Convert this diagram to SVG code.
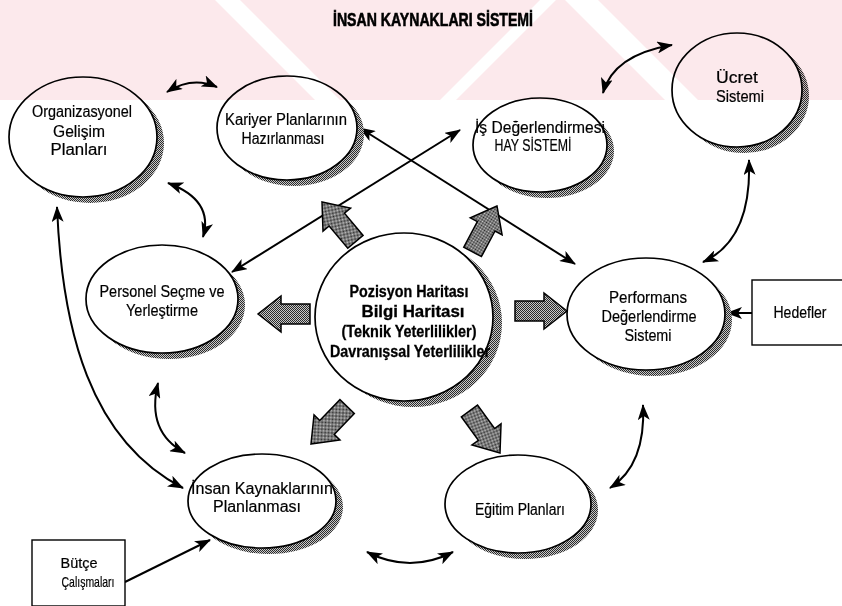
<svg xmlns="http://www.w3.org/2000/svg" width="842" height="606" viewBox="0 0 842 606">
  <defs>
    <!-- halftone fill used for shadows and block arrows -->
    <pattern id="ht" width="2" height="2" patternUnits="userSpaceOnUse">
      <rect width="2" height="2" fill="#c8c8c8"/>
      <rect width="1" height="1" fill="#2a2a2a"/>
      <rect x="1" y="1" width="1" height="1" fill="#2a2a2a"/>
    </pattern>
    <marker id="ah" markerUnits="userSpaceOnUse" markerWidth="16" markerHeight="12" refX="15" refY="6" orient="auto-start-reverse">
      <path d="M0,0 L16,6 L0,12 L4,6 Z" fill="#000"/>
    </marker>
    <path id="block" d="M0,0 L-23,-18 L-23,-10 L-52,-10 L-52,10 L-23,10 L-23,18 Z"/>
  </defs>
  <style>
    .node ellipse.sh { fill: url(#ht); stroke: none; }
    .node ellipse.fg { fill: #fff; stroke: #000; stroke-width: 1.7; }
    .box { fill: #fff; stroke: #000; stroke-width: 1.4; }
    text { font-family: "Liberation Sans", Arial, sans-serif; font-size: 16px; fill: #000; stroke: #000; stroke-width: 0.2; text-anchor: middle; }
    .b { font-weight: bold; stroke-width: 0.3; }
    .title { font-weight: bold; font-size: 19px; stroke-width: 0.6; }
    .sm { font-size: 15px; }
    .link { fill: none; stroke: #000; stroke-width: 2; marker-start: url(#ah); marker-end: url(#ah); }
    .one { fill: none; stroke: #000; stroke-width: 2; marker-end: url(#ah); }
    .fat { fill: url(#ht); stroke: #000; stroke-width: 1.5; stroke-linejoin: miter; }
    #band { mix-blend-mode: multiply; }
  </style>

  <rect width="842" height="606" fill="#fff"/>

  <text id="title" class="title" x="433" y="26" textLength="200" lengthAdjust="spacingAndGlyphs">İNSAN KAYNAKLARI SİSTEMİ</text>

  <!-- connectors -->
  <g id="connectors">
    <path class="link" d="M167,92 Q192,76 217,87"/>
    <path class="link" d="M168,183 Q214,200 203,237"/>
    <path class="link" d="M57,207 C62,330 90,440 183,488"/>
    <path class="link" d="M158,383 Q146,432 185,453"/>
    <path class="link" d="M367,552 Q410,574 453,552"/>
    <path class="link" d="M610,488 Q646,465 643,405"/>
    <path class="link" d="M703,262 Q752,240 749,160"/>
    <path class="link" d="M603,93 Q613,55 672,45"/>
    <path class="link" d="M360,128 L575,264"/>
    <path class="link" d="M232,272 L460,130"/>
    <path class="one" d="M752,313 L727,313"/>
    <path class="one" d="M125,582 L210,540"/>
  </g>

  <!-- block arrows out of the centre -->
  <g id="block-arrows">
    <use href="#block" class="fat" transform="translate(258,314) rotate(180)"/>
    <use href="#block" class="fat" transform="translate(567,311)"/>
    <use href="#block" class="fat" transform="translate(322,202) rotate(-130)"/>
    <use href="#block" class="fat" transform="translate(497,206) rotate(-62)"/>
    <use href="#block" class="fat" transform="translate(311,444) rotate(134)"/>
    <use href="#block" class="fat" transform="translate(500,453) rotate(54)"/>
  </g>

  <g id="org" class="node">
    <ellipse class="sh" cx="90" cy="143" rx="74" ry="60"/>
    <ellipse class="fg" cx="83" cy="137" rx="74" ry="60"/>
    <text x="82" y="117" textLength="100" lengthAdjust="spacingAndGlyphs">Organizasyonel</text>
    <text x="79" y="137" textLength="52" lengthAdjust="spacingAndGlyphs">Gelişim</text>
    <text x="79" y="155" textLength="57" lengthAdjust="spacingAndGlyphs">Planları</text>
  </g>

  <g id="kariyer" class="node">
    <ellipse class="sh" cx="294" cy="134" rx="70" ry="52"/>
    <ellipse class="fg" cx="287" cy="128" rx="70" ry="52"/>
    <text x="286" y="125" textLength="122" lengthAdjust="spacingAndGlyphs">Kariyer Planlarının</text>
    <text x="283" y="144" textLength="83" lengthAdjust="spacingAndGlyphs">Hazırlanması</text>
  </g>

  <g id="is" class="node">
    <ellipse class="sh" cx="547" cy="151" rx="67" ry="47"/>
    <ellipse class="fg" cx="540" cy="145" rx="67" ry="47"/>
    <text x="540" y="133" textLength="130" lengthAdjust="spacingAndGlyphs">İş Değerlendirmesi</text>
    <text x="533" y="151" textLength="77" lengthAdjust="spacingAndGlyphs">HAY SİSTEMİ</text>
  </g>

  <g id="ucret" class="node">
    <ellipse class="sh" cx="744" cy="96" rx="65" ry="57"/>
    <ellipse class="fg" cx="737" cy="90" rx="65" ry="57"/>
    <text x="737" y="83" textLength="42" lengthAdjust="spacingAndGlyphs">Ücret</text>
    <text x="740" y="102" textLength="48" lengthAdjust="spacingAndGlyphs">Sistemi</text>
  </g>

  <g id="merkez" class="node">
    <ellipse class="sh" cx="413" cy="323" rx="89" ry="84"/>
    <ellipse class="fg" cx="404" cy="317" rx="89" ry="84"/>
    <text class="b" x="409" y="297" textLength="119" lengthAdjust="spacingAndGlyphs">Pozisyon Haritası</text>
    <text class="b" x="413" y="317" textLength="103" lengthAdjust="spacingAndGlyphs">Bilgi Haritası</text>
    <text class="b" x="409" y="337" textLength="135" lengthAdjust="spacingAndGlyphs">(Teknik Yeterlilikler)</text>
    <text class="b" x="410" y="357" textLength="160" lengthAdjust="spacingAndGlyphs">Davranışsal Yeterlilikler</text>
  </g>

  <g id="personel" class="node">
    <ellipse class="sh" cx="169" cy="305" rx="76" ry="54"/>
    <ellipse class="fg" cx="162" cy="299" rx="76" ry="54"/>
    <text x="162" y="297" textLength="125" lengthAdjust="spacingAndGlyphs">Personel Seçme ve</text>
    <text x="162" y="316" textLength="72" lengthAdjust="spacingAndGlyphs">Yerleştirme</text>
  </g>

  <g id="performans" class="node">
    <ellipse class="sh" cx="653" cy="320" rx="79" ry="56"/>
    <ellipse class="fg" cx="646" cy="314" rx="79" ry="56"/>
    <text x="648" y="303" textLength="78" lengthAdjust="spacingAndGlyphs">Performans</text>
    <text x="649" y="322" textLength="95" lengthAdjust="spacingAndGlyphs">Değerlendirme</text>
    <text x="648" y="341" textLength="47" lengthAdjust="spacingAndGlyphs">Sistemi</text>
  </g>

  <g id="hedefler">
    <rect class="box" x="752" y="280" width="100" height="65"/>
    <text x="800" y="318" textLength="53" lengthAdjust="spacingAndGlyphs">Hedefler</text>
  </g>

  <g id="insan" class="node">
    <ellipse class="sh" cx="269" cy="507" rx="74" ry="47"/>
    <ellipse class="fg" cx="262" cy="501" rx="74" ry="47"/>
    <text x="262" y="494" textLength="142" lengthAdjust="spacingAndGlyphs">İnsan Kaynaklarının</text>
    <text x="257" y="512" textLength="88" lengthAdjust="spacingAndGlyphs">Planlanması</text>
  </g>

  <g id="egitim" class="node">
    <ellipse class="sh" cx="525" cy="510" rx="73" ry="49"/>
    <ellipse class="fg" cx="518" cy="504" rx="73" ry="49"/>
    <text x="520" y="515" textLength="90" lengthAdjust="spacingAndGlyphs">Eğitim Planları</text>
  </g>

  <g id="butce">
    <rect class="box" x="32" y="540" width="93" height="66"/>
    <text class="sm" x="79" y="568" textLength="37" lengthAdjust="spacingAndGlyphs">Bütçe</text>
    <text class="sm" x="88" y="587" textLength="53" lengthAdjust="spacingAndGlyphs">Çalışmaları</text>
  </g>

  <!-- faint tinted band laid over the top edge, multiplied so dark ink stays dark -->
  <g id="band">
    <path d="M0,0 H842 V100 H0 Z M215,0 L240,0 L340,100 L315,100 Z M440,100 L540,0 L556,0 L456,100 Z M565,0 L598,0 L698,100 L665,100 Z" fill="#fce9ec" fill-rule="evenodd"/>
  </g>
</svg>
